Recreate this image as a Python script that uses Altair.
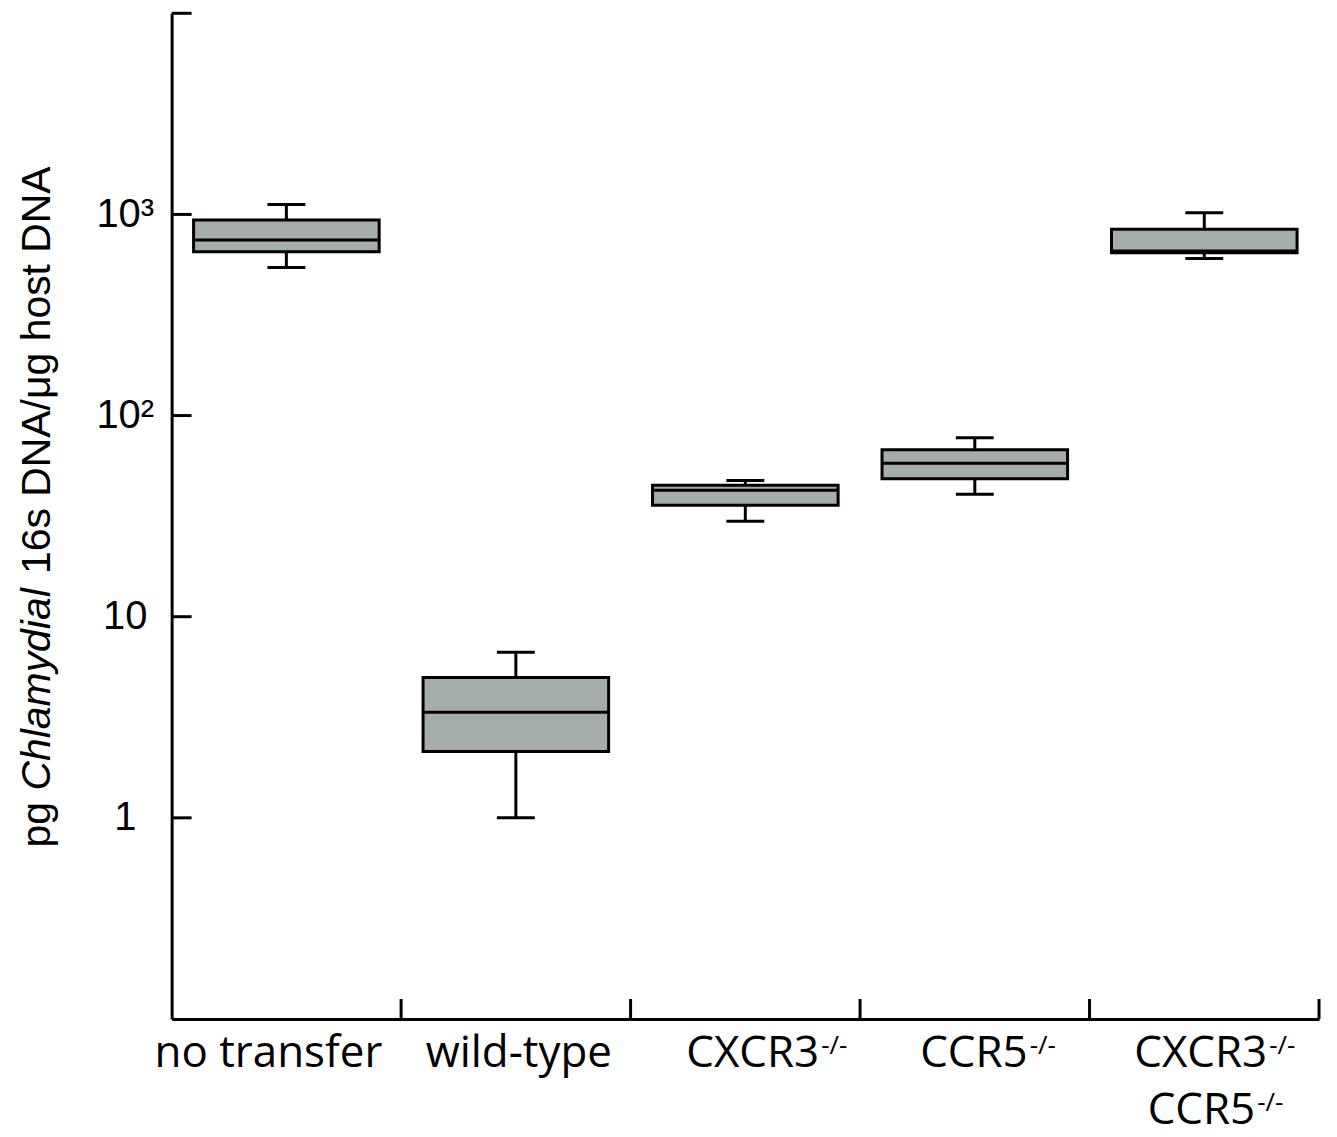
import altair as alt
import pandas as pd

# ---------------- data ----------------
groups = ["no transfer", "wild-type", "CXCR3-/-", "CCR5-/-", "CXCR3-/- CCR5-/-"]
whisker_low = [544, 1.0, 29.8, 40.6, 603]
q1 = [653, 2.14, 35.8, 48.5, 645]
median = [746, 3.35, 42.5, 58.0, 658]
q3 = [937, 4.99, 45.0, 67.6, 843]
whisker_high = [1121, 6.65, 47.6, 77.5, 1020]
y_tick_values = [1, 10, 100, 1000, 10000]

label_main = ["no transfer", "wild-type", "CXCR3", "CCR5", "CXCR3"]
label_second = "CCR5"
label_sup = "-/-"
title_parts = ["pg", "Chlamydial", "16s DNA/\u03bcg host DNA"]

# ---------------- styling ----------------
FONT = "Liberation Sans"
LFONT = "Open Sans"
W, H = 1150, 1008
BOX_FILL = "#a4adab"
LW = 3

df = pd.DataFrame(dict(group=groups, lo=whisker_low, q1=q1, med=median,
                       q3=q3, hi=whisker_high))
ticks_df = pd.DataFrame({"v": y_tick_values})

yscale = alt.Scale(type="log", domain=[0.1, 10000], nice=False)
xscale = alt.Scale(domain=groups, paddingInner=0, paddingOuter=0)

yaxis = alt.Axis(
    values=y_tick_values,
    labelExpr="datum.value == 1000 ? '10\u00b3' : datum.value == 100 ? '10\u00b2' : "
              "datum.value == 10000 ? '' : datum.value == 10 ? '10' : '1'",
    ticks=False, grid=False, domainColor="black", domainWidth=LW,
    labelFont=FONT, labelFontSize=40, labelColor="black",
    labelPadding=47, labelAlign="center", title=None,
)
xaxis = alt.Axis(labels=False, ticks=False, grid=False, domainColor="black",
                 domainWidth=LW, title=None)

X = alt.X("group:N", scale=xscale, axis=xaxis)


def Y(field):
    return alt.Y(field, type="quantitative", scale=yscale, axis=yaxis)


base = alt.Chart(df)

whisk_hi = base.mark_rule(color="black", strokeWidth=LW).encode(
    x=X, y=Y("q3"), y2="hi:Q")
whisk_lo = base.mark_rule(color="black", strokeWidth=LW).encode(
    x=X, y=Y("lo"), y2="q1:Q")
boxes = base.mark_bar(size=186, fill=BOX_FILL, stroke="black",
                      strokeWidth=LW).encode(x=X, y=Y("q1"), y2="q3:Q")
med = base.mark_tick(size=186, thickness=LW, color="black", opacity=1).encode(
    x=X, y=Y("med"))
cap_hi = base.mark_tick(size=38, thickness=LW, color="black", opacity=1).encode(
    x=X, y=Y("hi"))
cap_lo = base.mark_tick(size=38, thickness=LW, color="black", opacity=1).encode(
    x=X, y=Y("lo"))

# inward tick marks
yticks = alt.Chart(ticks_df).mark_rule(color="black", strokeWidth=LW).encode(
    y=alt.Y("v:Q", scale=yscale, axis=yaxis),
    x=alt.value(0), x2=alt.value(20))
xticks = base.mark_rule(color="black", strokeWidth=LW).encode(
    x=alt.X("group:N", scale=xscale, axis=xaxis, bandPosition=1),
    y=alt.value(H), y2=alt.value(H - 20))


def text_layer(group, text, align, dx, y, size, angle=None, italic=False,
               xval=None, font=FONT):
    d = pd.DataFrame({"group": [group], "t": [text]})
    kw = dict(align=align, dx=dx, baseline="alphabetic", font=font,
              fontSize=size, color="black")
    if angle is not None:
        kw["angle"] = angle
    if italic:
        kw["fontStyle"] = "italic"
    enc = dict(text="t:N", y=alt.value(y))
    if xval is None:
        enc["x"] = X
    else:
        enc["x"] = alt.value(xval)
    return alt.Chart(d).mark_text(**kw).encode(**enc)


LS = 44
SS = 26
L1 = H + 48
L2 = H + 105
labels = [
    text_layer(groups[0], label_main[0], "center", -18, L1, LS, font=LFONT),
    text_layer(groups[1], label_main[1], "center", 3, L1, LS, font=LFONT),
    text_layer(groups[2], label_main[2], "right", 74, L1, LS, font=LFONT),
    text_layer(groups[2], label_sup, "left", 76, L1 - 13, SS, font=LFONT),
    text_layer(groups[3], label_main[3], "right", 53, L1, LS, font=LFONT),
    text_layer(groups[3], label_sup, "left", 55, L1 - 13, SS, font=LFONT),
    text_layer(groups[4], label_main[4], "right", 63, L1, LS, font=LFONT),
    text_layer(groups[4], label_sup, "left", 65, L1 - 13, SS, font=LFONT),
    text_layer(groups[4], label_second, "right", 51, L2, LS, font=LFONT),
    text_layer(groups[4], label_sup, "left", 53, L2 - 13, SS, font=LFONT),
]

TS = 41
title = [
    text_layer(groups[0], title_parts[0], "left", 0, 836, TS, angle=270, xval=-122),
    text_layer(groups[0], title_parts[1], "left", 0, 779, TS, angle=270, italic=True, xval=-122),
    text_layer(groups[0], title_parts[2], "left", 0, 562, TS, angle=270, xval=-122),
]

chart = alt.layer(
    whisk_hi, whisk_lo, boxes, med, cap_hi, cap_lo, yticks, xticks,
    *labels, *title
).properties(
    width=W, height=H,
    autosize=alt.AutoSizeParams(type="none"),
    padding={"left": 164, "top": 4, "right": 10, "bottom": 120},
).configure_view(stroke=None)

chart.save("out.html", embed_options={"renderer": "svg", "actions": False})
